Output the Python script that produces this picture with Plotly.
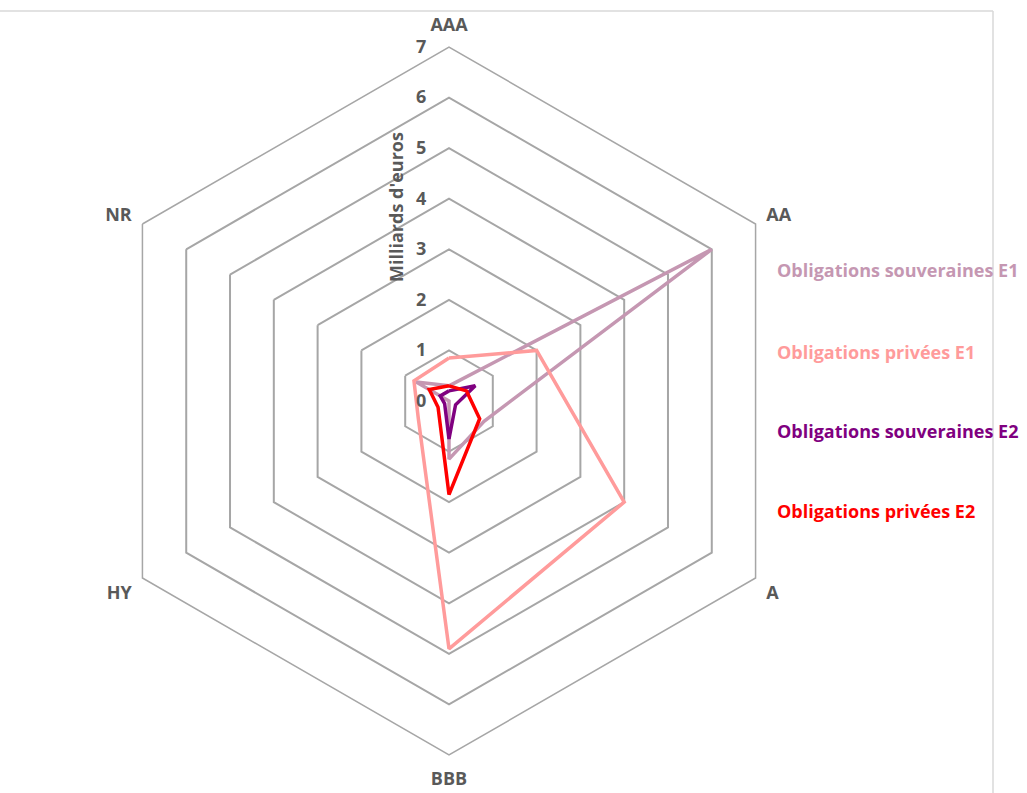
import plotly.graph_objects as go

# Rating buckets (clockwise from the top)
categories = ["AAA", "AA", "A", "BBB", "HY", "NR"]

# Holdings in billions of euros per rating bucket
souveraines_e1 = [0.3, 6.0, 0.8, 1.15, 0.0, 0.75]
privees_e1 = [0.85, 2.0, 4.0, 4.9, 0.7, 0.8]
souveraines_e2 = [0.2, 0.6, 0.15, 0.75, 0.1, 0.2]
privees_e2 = [0.3, 0.4, 0.7, 1.85, 0.25, 0.45]

series_names = [
    "Obligations souveraines E1",
    "Obligations privées E1",
    "Obligations souveraines E2",
    "Obligations privées E2",
]
series_values = [souveraines_e1, privees_e1, souveraines_e2, privees_e2]
series_colors = ["#C597B2", "#FF9B9B", "#800080", "#FF0000"]

radial_ticks = [0, 1, 2, 3, 4, 5, 6, 7]

W, H = 1027, 793
cx, cy, R = 449, 401, 354  # polar centre and outer radius in pixels

fig = go.Figure()
for name, vals, col in zip(series_names, series_values, series_colors):
    fig.add_trace(go.Scatterpolar(
        r=vals + vals[:1],
        theta=categories + categories[:1],
        mode="lines",
        name=name,
        line=dict(color=col, width=3.5),
        showlegend=False,
    ))

bold_grey = dict(family="Open Sans", size=18, color="#595959", weight="bold")

fig.update_layout(
    width=W,
    height=H,
    margin=dict(l=0, r=0, t=0, b=0),
    paper_bgcolor="white",
    plot_bgcolor="white",
    polar=dict(
        domain=dict(
            x=[(cx - R) / W, (cx + R) / W],
            y=[1 - (cy + R) / H, 1 - (cy - R) / H],
        ),
        gridshape="linear",
        bgcolor="white",
        angularaxis=dict(
            rotation=90,
            direction="clockwise",
            showgrid=False,
            showline=True,
            linecolor="#A6A6A6",
            linewidth=1.5,
            ticks="outside",
            ticklen=8,
            tickcolor="rgba(0,0,0,0)",
            tickfont=bold_grey,
        ),
        radialaxis=dict(
            range=[0, 7],
            tickvals=radial_ticks,
            ticktext=[str(t) for t in radial_ticks],
            angle=90,
            tickangle=90,
            side="counterclockwise",
            showline=False,
            ticks="outside",
            ticklen=16,
            tickcolor="rgba(0,0,0,0)",
            gridcolor="#A6A6A6",
            gridwidth=1.5,
            tickfont=bold_grey,
        ),
    ),
)

# Radial axis title
fig.add_annotation(
    x=396 / W, y=1 - 207 / H, xref="paper", yref="paper",
    xanchor="center", yanchor="middle",
    text="Milliards d'euros", textangle=-90, showarrow=False,
    font=bold_grey,
)

# Series labels, coloured like their lines
legend_y = [270, 352, 431, 511]
for name, col, ly in zip(series_names, series_colors, legend_y):
    fig.add_annotation(
        x=775 / W, y=1 - ly / H, xref="paper", yref="paper",
        text=name, showarrow=False, xanchor="left", yanchor="middle",
        font=dict(family="Open Sans", size=18, color=col, weight="bold"),
    )

# Chart frame (top and right edges)
fig.add_shape(type="line", xref="paper", yref="paper",
              x0=0, x1=993 / W, y0=1 - 11 / H, y1=1 - 11 / H,
              line=dict(color="#D9D9D9", width=1.5))
fig.add_shape(type="line", xref="paper", yref="paper",
              x0=993 / W, x1=993 / W, y0=1 - 11 / H, y1=0,
              line=dict(color="#D9D9D9", width=1.5))

fig.write_html("out.html")
